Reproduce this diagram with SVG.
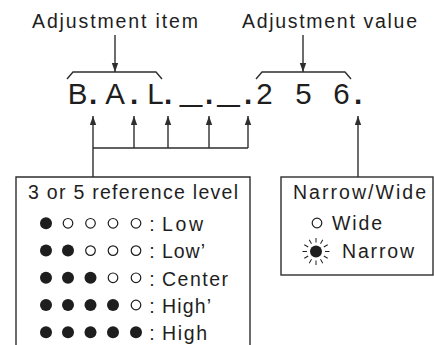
<svg xmlns="http://www.w3.org/2000/svg" width="434" height="345" viewBox="0 0 434 345">
<style>
text{font-family:"Liberation Sans",Arial,sans-serif;fill:#1e1e1e}
.lbl{font-size:19.5px}
.big{font-size:29.5px}
.dot{font-size:29.5px;font-weight:bold}
.ln{fill:none;stroke:#2e2e2e;stroke-width:1.4}
.arr{fill:none;stroke:#2e2e2e;stroke-width:1.4;marker-end:url(#ah)}
.on{fill:#1e1e1e}
.off{fill:#fff;stroke:#1e1e1e;stroke-width:1.2}
.ray{stroke:#1e1e1e;stroke-width:1}
</style>
<defs>
<marker id="ah" markerUnits="userSpaceOnUse" markerWidth="10" markerHeight="7" refX="9" refY="3.2" orient="auto">
<path d="M0,0 L9,3.2 L0,6.4 z" fill="#2e2e2e"/>
</marker>
</defs>

<g id="label-item">
<text class="lbl" x="32" y="28" textLength="166" lengthAdjust="spacing">Adjustment item</text>
</g>
<g id="label-value">
<text class="lbl" x="242" y="28" textLength="175" lengthAdjust="spacing">Adjustment value</text>
</g>

<g id="display">
<text class="big" x="77.5" y="104" text-anchor="middle">B</text>
<text class="dot" x="93" y="104" text-anchor="middle">.</text>
<text class="big" x="115" y="104" text-anchor="middle">A</text>
<text class="dot" x="134" y="104" text-anchor="middle">.</text>
<text class="big" x="155.5" y="104" text-anchor="middle">L</text>
<text class="dot" x="168" y="104" text-anchor="middle">.</text>
<text class="big" text-anchor="middle" transform="translate(191,100.5) scale(1.35,1)">_</text>
<text class="dot" x="209" y="104" text-anchor="middle">.</text>
<text class="big" text-anchor="middle" transform="translate(228.5,100.5) scale(1.35,1)">_</text>
<text class="dot" x="248" y="104" text-anchor="middle">.</text>
<text class="big" x="264.5" y="104" text-anchor="middle">2</text>
<text class="big" x="303.5" y="104" text-anchor="middle">5</text>
<text class="big" x="341.5" y="104" text-anchor="middle">6</text>
<text class="dot" x="358" y="104" text-anchor="middle">.</text>
</g>

<g id="connectors">
<line class="arr" x1="115" y1="35" x2="115" y2="72"/>
<line class="arr" x1="303" y1="35" x2="303" y2="72"/>
<path class="ln" d="M67,79 L73,72 L156,72 L162,79"/>
<path class="ln" d="M256,79 L262,72 L345,72 L351,79"/>
<path class="ln" d="M93,148 L248,148 M93,148 L93,177"/>
<line class="arr" x1="93" y1="148" x2="93" y2="116"/>
<line class="arr" x1="134" y1="148" x2="134" y2="116"/>
<line class="arr" x1="168" y1="148" x2="168" y2="116"/>
<line class="arr" x1="209" y1="148" x2="209" y2="116"/>
<line class="arr" x1="248" y1="148" x2="248" y2="116"/>
<line class="arr" x1="358" y1="177" x2="358" y2="116"/>
</g>

<g id="reference-level">
<path class="ln" d="M16,347 L16,177 L250,177 L250,347"/>
<text class="lbl" x="28" y="199" textLength="210" lengthAdjust="spacing">3 or 5 reference level</text>
<g id="row1">
<circle class="on" cx="46" cy="223.3" r="6"/>
<circle class="off" cx="68" cy="223.3" r="4.8"/>
<circle class="off" cx="90.5" cy="223.3" r="4.8"/>
<circle class="off" cx="113" cy="223.3" r="4.8"/>
<circle class="off" cx="136" cy="223.3" r="4.8"/>
<text class="lbl" x="152" y="231" text-anchor="middle">:</text>
<text class="lbl" x="162" y="231" textLength="41" lengthAdjust="spacing">Low</text>
</g>
<g id="row2">
<circle class="on" cx="46" cy="250.6" r="6"/>
<circle class="on" cx="68" cy="250.6" r="6"/>
<circle class="off" cx="90.5" cy="250.6" r="4.8"/>
<circle class="off" cx="113" cy="250.6" r="4.8"/>
<circle class="off" cx="136" cy="250.6" r="4.8"/>
<text class="lbl" x="152" y="258.3" text-anchor="middle">:</text>
<text class="lbl" x="162" y="258.3" textLength="43" lengthAdjust="spacing">Low’</text>
</g>
<g id="row3">
<circle class="on" cx="46" cy="277.8" r="6"/>
<circle class="on" cx="68" cy="277.8" r="6"/>
<circle class="on" cx="90.5" cy="277.8" r="6"/>
<circle class="off" cx="113" cy="277.8" r="4.8"/>
<circle class="off" cx="136" cy="277.8" r="4.8"/>
<text class="lbl" x="152" y="285.5" text-anchor="middle">:</text>
<text class="lbl" x="162" y="285.5" textLength="66" lengthAdjust="spacing">Center</text>
</g>
<g id="row4">
<circle class="on" cx="46" cy="305" r="6"/>
<circle class="on" cx="68" cy="305" r="6"/>
<circle class="on" cx="90.5" cy="305" r="6"/>
<circle class="on" cx="113" cy="305" r="6"/>
<circle class="off" cx="136" cy="305" r="4.8"/>
<text class="lbl" x="152" y="312.7" text-anchor="middle">:</text>
<text class="lbl" x="162" y="312.7" textLength="49" lengthAdjust="spacing">High’</text>
</g>
<g id="row5">
<circle class="on" cx="46" cy="332.3" r="6"/>
<circle class="on" cx="68" cy="332.3" r="6"/>
<circle class="on" cx="90.5" cy="332.3" r="6"/>
<circle class="on" cx="113" cy="332.3" r="6"/>
<circle class="on" cx="136" cy="332.3" r="6"/>
<text class="lbl" x="152" y="340" text-anchor="middle">:</text>
<text class="lbl" x="162" y="340" textLength="45" lengthAdjust="spacing">High</text>
</g>
</g>

<g id="narrow-wide">
<rect class="ln" x="281" y="177" width="152" height="98"/>
<text class="lbl" x="293" y="199" textLength="133" lengthAdjust="spacing">Narrow/Wide</text>
<circle class="off" cx="317" cy="223" r="4.8"/>
<text class="lbl" x="332" y="230" textLength="50" lengthAdjust="spacing">Wide</text>
<circle class="on" cx="316" cy="251.5" r="6"/>
<g transform="translate(316,251.5)">
<line class="ray" x1="9" y1="0" x2="13.5" y2="0"/>
<line class="ray" x1="9" y1="0" x2="13.5" y2="0" transform="rotate(30)"/>
<line class="ray" x1="9" y1="0" x2="13.5" y2="0" transform="rotate(60)"/>
<line class="ray" x1="9" y1="0" x2="13.5" y2="0" transform="rotate(90)"/>
<line class="ray" x1="9" y1="0" x2="13.5" y2="0" transform="rotate(120)"/>
<line class="ray" x1="9" y1="0" x2="13.5" y2="0" transform="rotate(150)"/>
<line class="ray" x1="9" y1="0" x2="13.5" y2="0" transform="rotate(180)"/>
<line class="ray" x1="9" y1="0" x2="13.5" y2="0" transform="rotate(210)"/>
<line class="ray" x1="9" y1="0" x2="13.5" y2="0" transform="rotate(240)"/>
<line class="ray" x1="9" y1="0" x2="13.5" y2="0" transform="rotate(270)"/>
<line class="ray" x1="9" y1="0" x2="13.5" y2="0" transform="rotate(300)"/>
<line class="ray" x1="9" y1="0" x2="13.5" y2="0" transform="rotate(330)"/>
</g>
<text class="lbl" x="342" y="258" textLength="72" lengthAdjust="spacing">Narrow</text>
</g>
</svg>
